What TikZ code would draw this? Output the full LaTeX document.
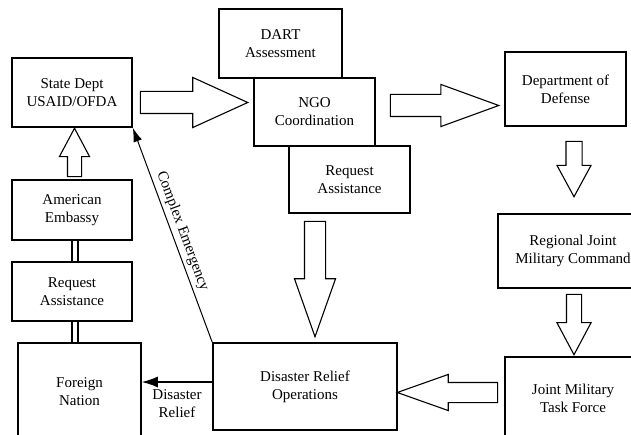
\documentclass[tikz,border=0pt]{standalone}
\usepackage{fontspec}
\setmainfont{Liberation Serif}
\usetikzlibrary{shapes.arrows,arrows.meta,calc}

\begin{document}
\begin{tikzpicture}[x=1pt, y=-1pt,
        box/.style={draw, fill=white, line width=1.6pt, inner sep=2pt, align=center, font=\fontsize{15}{18}\selectfont},
        lbl/.style={font=\fontsize{15}{18}\selectfont, align=center},
        hollow/.style n args={3}{to path={let \p1=($(\tikztotarget)-(\tikztostart)$), \n1={veclen(\x1,\y1)} in
            -- (\tikztotarget) node[pos=0, anchor=tail, sloped, allow upside down, single arrow, draw, fill=white,
            line width=1.1pt, inner xsep=0pt, inner ysep=#1, single arrow head extend=#2,
            single arrow tip angle=#3, minimum height=\n1] {}}}]
        \useasboundingbox (0,0) rectangle (631,435);

        \node[box, minimum width=120, minimum height=69] (state) at (72,92.5) {State Dept\\USAID/OFDA};
        \node[box, minimum width=123, minimum height=69] (dart) at (280.5,43.5) {DART\\Assessment};
        \node[box, minimum width=121, minimum height=68] (ngo) at (314.5,112) {NGO\\Coordination};
        \node[box, minimum width=121, minimum height=67] (reqtop) at (349.5,179.5) {Request\\Assistance};
        \node[box, minimum width=121, minimum height=74] (dod) at (565.5,89) {Department of\\Defense};
        \node[box, minimum width=150, minimum height=74] (rjmc) at (573,251) {Regional Joint\\Military Command};
        \node[box, minimum width=136, minimum height=83] (jmtf) at (573,398.5) {Joint Military\\Task Force};
        \node[box, minimum width=184, minimum height=87] (dro) at (305,386.5) {Disaster Relief\\Operations};
        \node[box, minimum width=123, minimum height=97] (foreign) at (79.5,391.5) {Foreign\\Nation};
        \node[box, minimum width=120, minimum height=59] (reqleft) at (72,291.5) {Request\\Assistance};
        \node[box, minimum width=120, minimum height=60] (emb) at (72,210) {American\\Embassy};

        \path ($(state.east)+(7,10)$) to[hollow={10.5}{14}{49}] ($(ngo.west)+(-6,-9.5)$);
        \path ($(ngo.east)+(14,-6.5)$) to[hollow={10.5}{10}{40}] ($(dod.west)+(-6,16.5)$);
        \path ($(dod.south)+(8.5,14)$) to[hollow={7.5}{9}{57}] ($(rjmc.north)+(1,-17)$);
        \path ($(rjmc.south)+(1,5)$) to[hollow={7}{9.5}{56}] ($(jmtf.north)+(1,-2)$);
        \path ($(jmtf.west)+(-6,-6)$) to[hollow={9.5}{8}{39}] ($(dro.east)+(0,6)$);
        \path ($(reqtop.south)+(-34.5,7)$) to[hollow={10}{10}{39}] ($(dro.north)+(10,-6)$);
        \path ($(emb.north)+(2.5,-2)$) to[hollow={6.5}{8}{56}] ($(state.south)+(2.5,1)$);

        \draw[line width=1.4pt, double, double distance=4.5pt] ($(emb.south)+(3,0)$) -- ($(reqleft.north)+(3,0)$);
        \draw[line width=1.4pt, double, double distance=4.5pt] ($(reqleft.south)+(3,0)$) -- ($(reqleft.south |- foreign.north)+(3,0)$);

        \draw[line width=1pt, -{Latex[length=14pt,width=9pt]}] (dro.north west) -- node[lbl, sloped, above] {Complex Emergency} (state.south east);
        \draw[line width=1.3pt, -{Latex[length=16pt,width=11pt]}] ($(dro.west)+(0,-4.5)$) -- ($(foreign.east)+(0,-9.5)$) node[lbl, midway, below=4pt] {Disaster\\Relief};
    \end{tikzpicture}
\end{document}
